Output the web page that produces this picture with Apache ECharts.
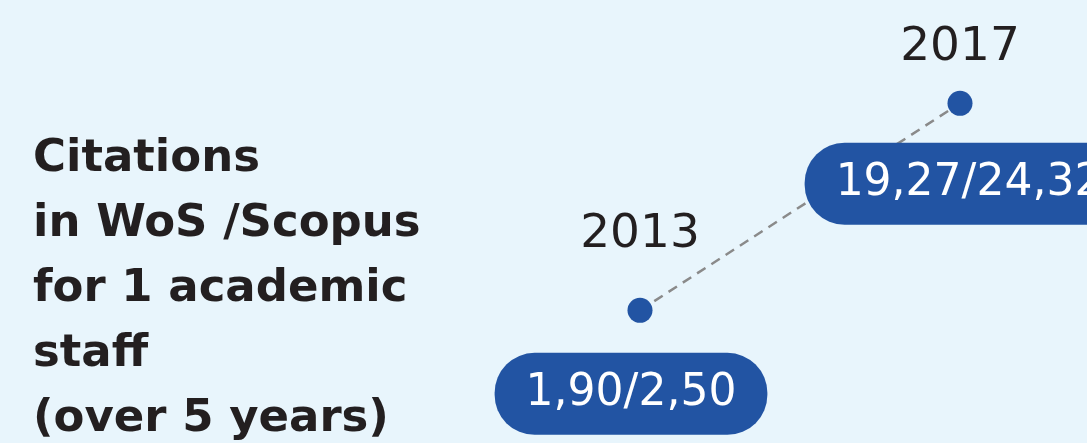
<!DOCTYPE html>
<html>
<head>
<meta charset="utf-8">
<script src="https://cdn.jsdelivr.net/npm/echarts@6/dist/echarts.min.js"></script>
<style>
html,body{margin:0;padding:0;background:#E8F5FC;}
#c{width:1087px;height:443px;}
</style>
</head>
<body>
<div id="c"></div>
<script>
const years = [2013, 2017];
const wos = [1.90, 19.27];
const scopus = [2.50, 24.32];
const valueLabels = ['1,90/2,50', '19,27/24,32'];
const titleText = 'Citations\nin WoS /Scopus\nfor 1 academic\nstaff\n(over 5 years)';

const BLUE = '#2254A3';
const NUMFONT = 'DejaVu Sans';
const chart = echarts.init(document.getElementById('c'));
const yearDist = [40, 20];
const boxDist = [30, 27];
const boxOffset = [[-9, 0], [9, 0]];
const pts = years.map((y, i) => [y, wos[i]]);
chart.setOption({
  backgroundColor: '#E8F5FC',
  animation: false,
  title: {
    text: titleText,
    left: 33, top: 127, padding: 0,
    textStyle: {fontFamily: 'DejaVu Sans', fontWeight: 'bold', fontSize: 45, lineHeight: 65, color: '#231F20'}
  },
  grid: {left: 640, right: 127, top: 35, bottom: 110},
  xAxis: {type: 'value', min: 2013, max: 2017, show: false},
  yAxis: {type: 'value', min: 0, max: 25, show: false},
  series: [
    {
      type: 'line',
      data: pts.map((p, i) => ({value: p, label: {distance: yearDist[i]}})),
      symbol: 'circle',
      symbolSize: 25,
      itemStyle: {color: BLUE},
      lineStyle: {color: '#8A8A8A', width: 2.5, type: [10, 7]},
      label: {
        show: true, position: 'top',
        formatter: p => String(years[p.dataIndex]),
        fontFamily: NUMFONT, fontWeight: 'normal', fontSize: 47, color: '#231F20'
      },
      z: 3
    },
    {
      type: 'scatter',
      data: pts.map((p, i) => ({value: p, label: {distance: boxDist[i], offset: boxOffset[i]}})),
      symbolSize: 25,
      itemStyle: {color: 'rgba(0,0,0,0)', opacity: 1},
      label: {
        show: true, position: 'bottom',
        formatter: p => valueLabels[p.dataIndex],
        fontFamily: NUMFONT, fontWeight: 'normal', fontSize: 44, lineHeight: 44, color: '#fff',
        backgroundColor: BLUE, borderRadius: 40, padding: [19, 31]
      },
      z: 5
    }
  ]
});
</script>
</body>
</html>
